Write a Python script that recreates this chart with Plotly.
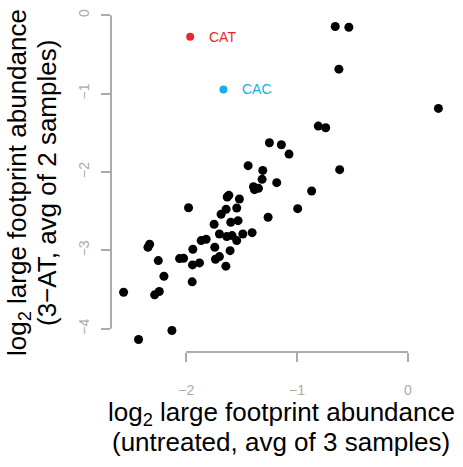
import plotly.graph_objects as go

# ---- data ----
x_black = [-0.655, -0.532, -0.622, 0.276, -0.808, -0.741, -1.249, -1.141, -1.072, -1.441,
           -1.309, -0.615, -1.315, -1.183, -1.393, -1.348, -1.384, -0.868, -1.615, -1.630,
           -1.520, -1.979, -1.640, -1.544, -1.685, -0.994, -1.261, -1.748, -1.598, -1.532,
           -1.700, -1.634, -1.586, -1.544, -1.489, -1.405, -1.865, -1.820, -2.330, -2.345,
           -1.940, -1.742, -1.604, -2.060, -2.024, -2.252, -1.736, -1.700, -1.943, -1.880,
           -1.642, -2.201, -1.946, -2.565, -2.285, -2.243, -2.129, -2.430]
y_black = [-0.144, -0.153, -0.688, -1.189, -1.414, -1.435, -1.627, -1.652, -1.771, -1.919,
           -1.979, -1.970, -2.093, -2.136, -2.187, -2.208, -2.225, -2.242, -2.297, -2.318,
           -2.344, -2.455, -2.475, -2.459, -2.539, -2.467, -2.577, -2.666, -2.641, -2.620,
           -2.790, -2.824, -2.811, -2.875, -2.790, -2.773, -2.875, -2.857, -2.921, -2.959,
           -2.985, -2.959, -3.003, -3.104, -3.100, -3.130, -3.112, -3.079, -3.185, -3.159,
           -3.201, -3.329, -3.401, -3.533, -3.567, -3.524, -4.021, -4.136]

hl_names = ["CAT", "CAC"]
hl_x = [-1.964, -1.664]
hl_y = [-0.276, -0.947]
hl_colors = ["#e8262b", "#17aee8"]

x_ticks = [-2, -1, 0]
y_ticks = [0, -1, -2, -3, -4]
x_tick_labels = ["\u22122", "\u22121", "0"]
y_tick_labels = ["0", "\u22121", "\u22122", "\u22123", "\u22124"]

x_title = ["log<sub>2</sub> large footprint abundance", "(untreated, avg of 3 samples)"]
y_title = ["log<sub>2</sub> large footprint abundance", "(3\u2212AT, avg of 2 samples)"]

# ---- ranges (R-style 4% padding) ----
all_x = x_black + hl_x
all_y = y_black + hl_y
sx = max(all_x) - min(all_x)
sy = max(all_y) - min(all_y)
x_range = [min(all_x) - 0.04 * sx, max(all_x) + 0.04 * sx]
y_range = [min(all_y) - 0.04 * sy, max(all_y) + 0.04 * sy]

FONT = "Liberation Sans, Arial, Helvetica, sans-serif"
GRAY = "#ababab"

fig = go.Figure()
fig.add_trace(go.Scatter(x=x_black, y=y_black, mode="markers",
                         marker=dict(color="black", size=9, line=dict(width=0)),
                         showlegend=False, hoverinfo="skip"))
fig.add_trace(go.Scatter(x=hl_x, y=hl_y, mode="markers",
                         marker=dict(color=hl_colors, size=8, line=dict(width=0)),
                         showlegend=False, hoverinfo="skip"))

annotations = []
for n, xx, yy, c in zip(hl_names, hl_x, hl_y, hl_colors):
    annotations.append(dict(x=xx, y=yy, xref="x", yref="y", text=n, showarrow=False,
                            xanchor="left", yanchor="middle", xshift=17,
                            font=dict(family=FONT, size=14, color=c)))

# axis titles
for i, t in enumerate(x_title):
    annotations.append(dict(x=0.5, y=0, xref="paper", yref="paper", text=t, showarrow=False,
                            xanchor="center", yanchor="middle", yshift=-61 - 29 * i,
                            font=dict(family=FONT, size=26, color="black")))
for i, t in enumerate(y_title):
    annotations.append(dict(x=0, y=0.5, xref="paper", yref="paper", text=t, showarrow=False,
                            xanchor="center", yanchor="middle", xshift=-93 + 29 * i,
                            textangle=-90,
                            font=dict(family=FONT, size=26, color="black")))

shapes = [
    dict(type="line", xref="x", yref="paper", x0=min(x_ticks), x1=max(x_ticks), y0=0, y1=0,
         line=dict(color=GRAY, width=2)),
    dict(type="line", xref="paper", yref="y", x0=0, x1=0, y0=min(y_ticks), y1=max(y_ticks),
         line=dict(color=GRAY, width=2)),
]

fig.update_layout(
    width=463, height=467,
    margin=dict(l=111, r=12, t=14, b=115),
    paper_bgcolor="white", plot_bgcolor="white",
    annotations=annotations, shapes=shapes,
    xaxis=dict(range=x_range, tickvals=x_ticks, ticktext=x_tick_labels,
               showgrid=False, zeroline=False, showline=False, automargin=False,
               ticks="outside", ticklen=9, tickwidth=2, tickcolor=GRAY,
               ticklabelstandoff=16,
               tickfont=dict(family=FONT, size=14, color=GRAY)),
    yaxis=dict(range=y_range, tickvals=y_ticks, ticktext=y_tick_labels,
               showgrid=False, zeroline=False, showline=False, automargin=False,
               ticks="outside", ticklen=9, tickwidth=2, tickcolor=GRAY,
               tickangle=-90, ticklabelstandoff=6,
               tickfont=dict(family=FONT, size=14, color=GRAY)),
)

fig.write_html("out.html", config={"displayModeBar": False},
               post_script="document.body.style.margin='0px';")
